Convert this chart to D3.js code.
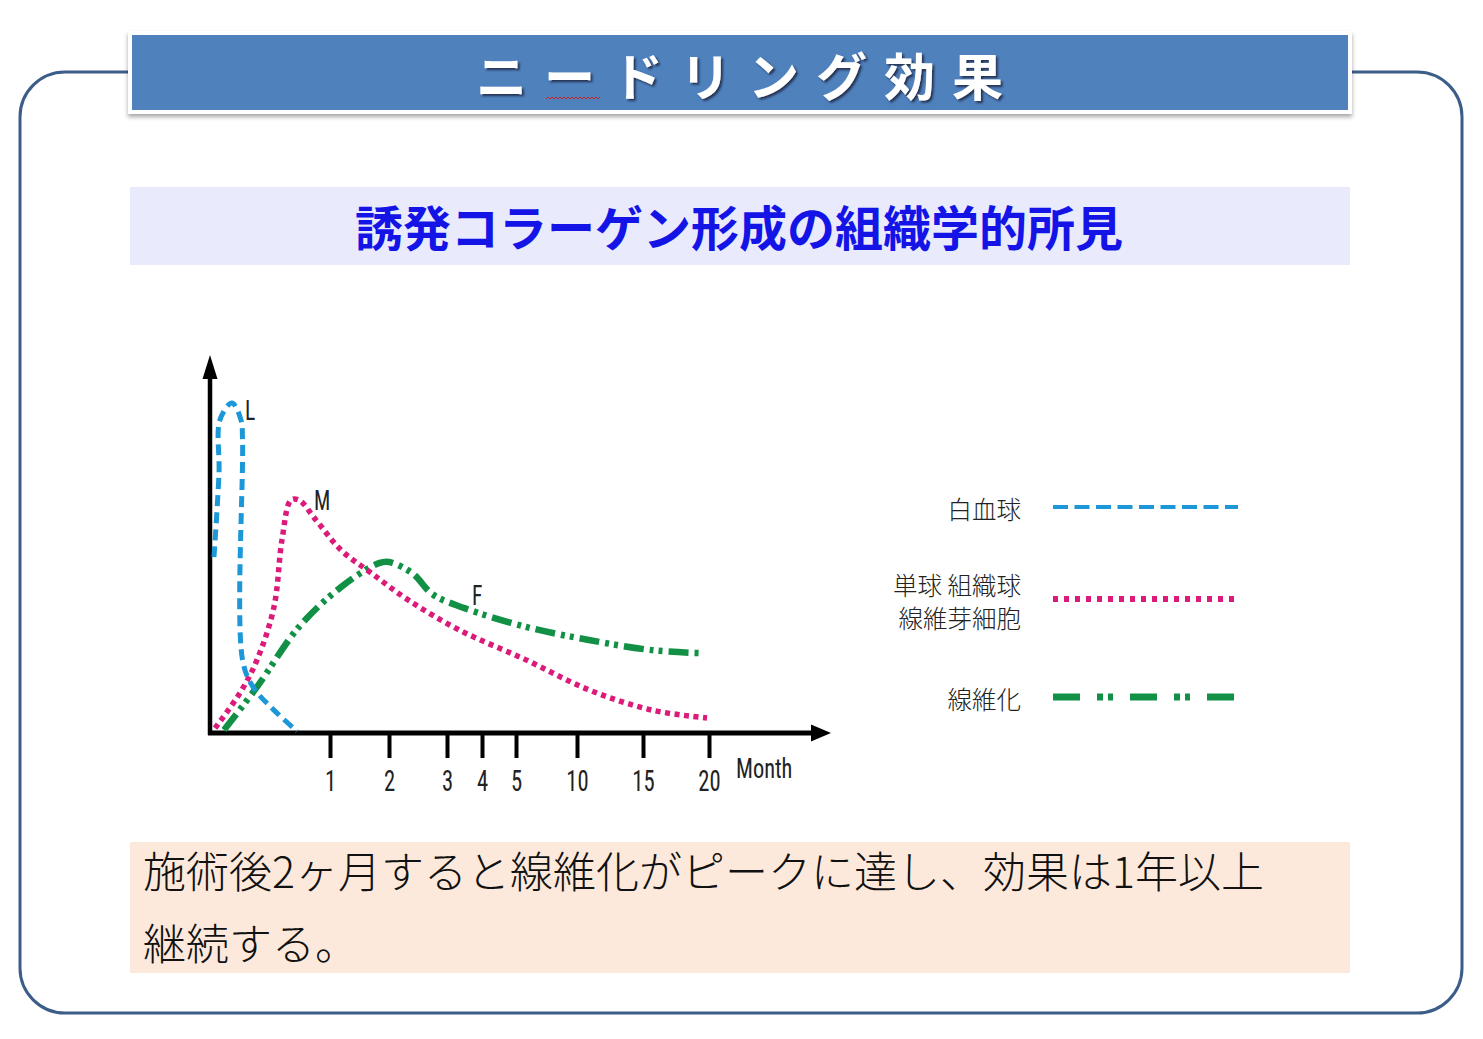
<!DOCTYPE html>
<html>
<head>
<meta charset="utf-8">
<script src="https://cdn.jsdelivr.net/npm/d3@7"></script>
<style>
  html, body { margin: 0; padding: 0; background: #fff; }
  svg { display: block; }
</style>
</head>
<body>
<div id="chart"></div>
<script>
// Data (month, relative level 0-100)
const tickMonths = [1, 2, 3, 4, 5, 10, 15, 20];
const tickPositions = [0, 1, 2, 3, 4, 5, 10, 15, 20];

const leukocyteMonths = [0.033, 0.075, 0.083, 0.183, 0.258, 0.271, 0.271, 0.358, 0.533, 0.725];
const leukocyteLevel  = [46.9, 69.3, 83.5, 88.0, 83.5, 78.1, 19.5, 12.3, 6.1, 0.5];

const macrophageMonths = [0.042, 0.25, 0.392, 0.533, 0.60, 0.675, 0.742, 0.883, 1.186, 1.695, 2.328, 3.343, 5.82, 10.9, 15.68, 19.85];
const macrophageLevel  = [1.3, 10.7, 19.5, 33.6, 51.5, 62.1, 62.1, 56.8, 48.8, 42.7, 35.5, 27.5, 19.5, 11.5, 6.1, 4.0];

const fibrosisMonths = [0.117, 0.392, 0.742, 1.186, 1.83, 2.0, 2.41, 2.75, 3.5, 5.82, 10.9, 15.68, 19.3];
const fibrosisLevel  = [0.8, 12.3, 28.3, 38.9, 45.3, 45.6, 42.5, 37.0, 33.3, 28.3, 24.8, 22.1, 21.3];

const legendLabels = [["白血球"], ["単球 組織球", "線維芽細胞"], ["線維化"]];

const w = 1483;
const h = 1039;

const svg = d3.select("#chart")
    .append("svg")
    .attr("width", w)
    .attr("height", h);

const defs = svg.append("defs");
const shadow = defs.append("filter").attr("id", "boxShadow")
    .attr("x", "-5%").attr("y", "-20%").attr("width", "110%").attr("height", "150%");
shadow.append("feDropShadow").attr("dx", 0).attr("dy", 3).attr("stdDeviation", 2)
    .attr("flood-color", "#000").attr("flood-opacity", 0.35);
const textShadow = defs.append("filter").attr("id", "textShadow")
    .attr("x", "-10%").attr("y", "-20%").attr("width", "120%").attr("height", "150%");
textShadow.append("feDropShadow").attr("dx", 2).attr("dy", 2).attr("stdDeviation", 1)
    .attr("flood-color", "#1b2b45").attr("flood-opacity", 0.9);

// outer rounded frame
svg.append("rect")
    .attr("x", 20).attr("y", 72)
    .attr("width", 1442).attr("height", 941)
    .attr("rx", 45).attr("ry", 45)
    .attr("fill", "none")
    .attr("stroke", "#3d5d89")
    .attr("stroke-width", 3);

// title banner
svg.append("rect")
    .attr("x", 130).attr("y", 33)
    .attr("width", 1220).attr("height", 79)
    .attr("fill", "#4f81bd")
    .attr("stroke", "#fff")
    .attr("stroke-width", 4)
    .attr("filter", "url(#boxShadow)");

svg.append("text")
    .attr("x", 748).attr("y", 96)
    .attr("text-anchor", "middle")
    .attr("font-family", "'Noto Sans CJK JP', sans-serif")
    .attr("font-weight", 700)
    .attr("font-size", 51)
    .attr("letter-spacing", 17)
    .attr("fill", "#fff")
    .attr("filter", "url(#textShadow)")
    .text("ニードリング効果");

// spell-check squiggle under the long vowel mark
svg.append("path")
    .attr("d", d3.range(0, 28).map((i) => (i === 0 ? "M" : "L") + (546 + i * 2) + "," + (i % 2 ? 97 : 99)).join(""))
    .attr("fill", "none")
    .attr("stroke", "#d02020")
    .attr("stroke-width", 1);

// subtitle band
svg.append("rect")
    .attr("x", 130).attr("y", 187)
    .attr("width", 1220).attr("height", 78)
    .attr("fill", "#e9ebfd");

svg.append("text")
    .attr("x", 739).attr("y", 246)
    .attr("text-anchor", "middle")
    .attr("font-family", "'Noto Sans CJK JP', sans-serif")
    .attr("font-weight", 700)
    .attr("font-size", 48)
    .attr("fill", "#1414e6")
    .text("誘発コラーゲン形成の組織学的所見");

// bottom note
svg.append("rect")
    .attr("x", 130).attr("y", 842)
    .attr("width", 1220).attr("height", 131)
    .attr("fill", "#fde9db");

const note = svg.append("text")
    .attr("font-family", "'Noto Sans CJK JP', sans-serif")
    .attr("font-weight", 300)
    .attr("font-size", 43)
    .attr("fill", "#111");
note.append("tspan").attr("x", 143).attr("y", 888).text("施術後2ヶ月すると線維化がピークに達し、効果は1年以上");
note.append("tspan").attr("x", 143).attr("y", 960).text("継続する。");

// scales
const x = d3.scaleLinear()
    .domain(tickPositions)
    .range([210, 330, 389, 447, 482, 516, 577, 643, 709]);

const y = d3.scaleLinear()
    .domain([0, 100])
    .range([733, 358]);

// axes
const chart = svg.append("g");

chart.append("line")
    .attr("x1", 210).attr("y1", 735)
    .attr("x2", 210).attr("y2", 374)
    .attr("stroke", "#000").attr("stroke-width", 4.5);
chart.append("path")
    .attr("d", "M210,355L202.5,379L217.5,379Z")
    .attr("fill", "#000");

chart.append("line")
    .attr("x1", 208).attr("y1", 733)
    .attr("x2", 814).attr("y2", 733)
    .attr("stroke", "#000").attr("stroke-width", 5);
chart.append("path")
    .attr("d", "M831,733L811,724.5L811,741.5Z")
    .attr("fill", "#000");

const narrowFont = "'Liberation Sans Narrow', 'Roboto Condensed', sans-serif";

const xAxis = chart.append("g")
    .attr("transform", "translate(0,733)")
    .call(d3.axisBottom(x).tickValues(tickMonths).tickSize(25).tickPadding(12).tickFormat(d3.format("d")));
xAxis.select(".domain").remove();
xAxis.selectAll(".tick line").attr("stroke", "#000").attr("stroke-width", 4);
xAxis.selectAll(".tick text")
    .attr("font-family", narrowFont)
    .attr("font-size", 29)
    .attr("transform", "scale(0.78,1)")
    .attr("fill", "#222");

chart.append("text")
    .attr("transform", "translate(736,778) scale(0.8,1)")
    .attr("font-family", narrowFont)
    .attr("font-size", 28)
    .attr("fill", "#222")
    .text("Month");

// curves
const line = d3.line()
    .x((d) => x(d[0]))
    .y((d) => y(d[1]))
    .curve(d3.curveCatmullRom.alpha(0.5));

const series = [
    { months: fibrosisMonths, level: fibrosisLevel, color: "#129146", width: 6.5, dash: "20,6,4,5,4,6" },
    { months: macrophageMonths, level: macrophageLevel, color: "#dc1a7a", width: 5.5, dash: "5,4.5" },
    { months: leukocyteMonths, level: leukocyteLevel, color: "#1c97d8", width: 5, dash: "11,6" }
];

chart.selectAll("path.curve")
    .data(series)
    .enter()
    .append("path")
    .attr("class", "curve")
    .attr("d", (d) => line(d.months.map((m, i) => [m, d.level[i]])))
    .attr("fill", "none")
    .attr("stroke", (d) => d.color)
    .attr("stroke-width", (d) => d.width)
    .attr("stroke-dasharray", (d) => d.dash);

// curve letters
const curveLetters = [["L", 245, 420], ["M", 314, 510], ["F", 472, 605]];
chart.selectAll("text.letter")
    .data(curveLetters)
    .enter()
    .append("text")
    .attr("class", "letter")
    .attr("transform", (d) => "translate(" + d[1] + "," + d[2] + ") scale(0.8,1)")
    .attr("font-family", narrowFont)
    .attr("font-size", 27)
    .attr("fill", "#222")
    .text((d) => d[0]);

// legend
const legendRows = [
    { y: 507, textY: [519], color: "#1c97d8", width: 4, dash: "15,6.5" },
    { y: 599, textY: [595, 628], color: "#dc1a7a", width: 6, dash: "5,6" },
    { y: 697, textY: [709], color: "#129146", width: 7, dash: "27,17,6,5,5,17" }
];

legendRows.forEach((row, i) => {
    svg.append("line")
        .attr("x1", 1053).attr("y1", row.y)
        .attr("x2", 1238).attr("y2", row.y)
        .attr("stroke", row.color)
        .attr("stroke-width", row.width)
        .attr("stroke-dasharray", row.dash);
    legendLabels[i].forEach((label, j) => {
        svg.append("text")
            .attr("x", 1021).attr("y", row.textY[j])
            .attr("text-anchor", "end")
            .attr("font-family", "'Noto Sans CJK JP', sans-serif")
            .attr("font-weight", 300)
            .attr("font-size", 24.5)
            .attr("fill", "#222")
            .text(label);
    });
});
</script>
</body>
</html>
